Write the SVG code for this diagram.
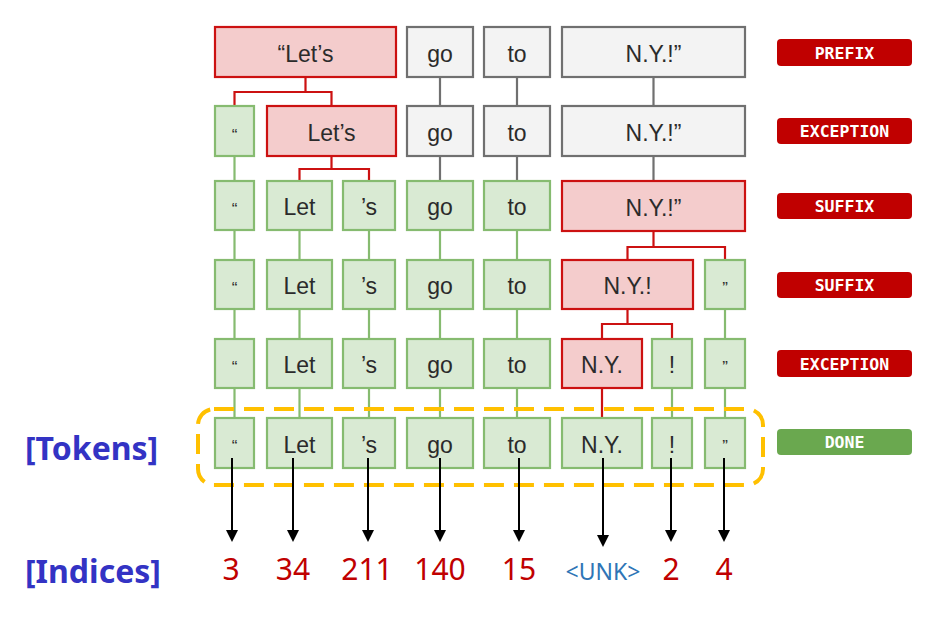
<svg xmlns="http://www.w3.org/2000/svg" width="926" height="618" viewBox="0 0 926 618">
<defs>
<style>
.g rect{fill:#f3f3f3;stroke:#707070;stroke-width:2.2}
.r rect{fill:#f4cccc;stroke:#cc1111;stroke-width:2.2}
.n rect{fill:#d9ead3;stroke:#86bb70;stroke-width:2.2}
.node text{font-family:"Liberation Sans",Arial,sans-serif;font-size:23px;fill:#2b2b2b;text-anchor:middle}
.node text.q{font-size:17px}
.cg{stroke:#707070;stroke-width:2.2;fill:none}
.cr{stroke:#cc1111;stroke-width:2.2;fill:none}
.cn{stroke:#86bb70;stroke-width:2.2;fill:none}
.ar{stroke:#000;stroke-width:2;fill:none}
.tag rect{rx:4;ry:4}
.tag text{font-family:"DejaVu Sans Mono",monospace;font-weight:bold;font-size:16.5px;fill:#fff;text-anchor:middle}
.idx{font-family:"Noto Sans","Open Sans",sans-serif;font-size:30px;fill:#c00000;text-anchor:middle}
.lbl{font-family:"Noto Sans","Open Sans",sans-serif;font-weight:bold;font-size:32px;fill:#3333c4}
</style>
<marker id="ah" markerWidth="12" markerHeight="12" refX="10" refY="6" orient="auto" markerUnits="userSpaceOnUse">
<path d="M0,0 L12,6 L0,12 Z" fill="#000"/>
</marker>
</defs>
<rect width="926" height="618" fill="#fff"/>

<g id="connectors">
<path class="cg" d="M440 77V106M440 156V181M517 77V106M517 156V181M653.5 77V106M653.5 156V181"/>
<path class="cr" d="M305.5 77V92M234.5 106V92H331.5V106"/>
<path class="cr" d="M331.5 156V169M299.5 181V169H369V181"/>
<path class="cr" d="M653.5 231V247M627.5 260V247H725V260"/>
<path class="cr" d="M627.5 309V324M602 339V324H672V339"/>
<path class="cr" d="M602 388V418"/>
<path class="cn" d="M234.5 156V181M234.5 230V260M234.5 309V339M234.5 388V418"/>
<path class="cn" d="M299.5 230V260M299.5 309V339M299.5 388V418"/>
<path class="cn" d="M369 230V260M369 309V339M369 388V418"/>
<path class="cn" d="M440 230V260M440 309V339M440 388V418"/>
<path class="cn" d="M517 230V260M517 309V339M517 388V418"/>
<path class="cn" d="M725 309V339M725 388V418M672 388V418"/>
</g>

<rect id="done-frame" x="198" y="409" width="565" height="76" rx="16" fill="none" stroke="#ffc000" stroke-width="4" stroke-dasharray="20 10"/>

<g id="r1-lets" class="node r"><rect x="215" y="27" width="181" height="50"/><text x="305.5" y="62">“Let’s</text></g>
<g id="r1-go" class="node g"><rect x="407" y="27" width="66" height="50"/><text x="440" y="62">go</text></g>
<g id="r1-to" class="node g"><rect x="484" y="27" width="66" height="50"/><text x="517" y="62">to</text></g>
<g id="r1-ny" class="node g"><rect x="562" y="27" width="183" height="50"/><text x="653.5" y="62">N.Y.!”</text></g>

<g id="r2-q" class="node n"><rect x="215" y="106" width="39" height="50"/><text class="q" x="234.5" y="141">“</text></g>
<g id="r2-lets" class="node r"><rect x="267" y="106" width="129" height="50"/><text x="331.5" y="141">Let’s</text></g>
<g id="r2-go" class="node g"><rect x="407" y="106" width="66" height="50"/><text x="440" y="141">go</text></g>
<g id="r2-to" class="node g"><rect x="484" y="106" width="66" height="50"/><text x="517" y="141">to</text></g>
<g id="r2-ny" class="node g"><rect x="562" y="106" width="183" height="50"/><text x="653.5" y="141">N.Y.!”</text></g>

<g id="r3-q" class="node n"><rect x="215" y="181" width="39" height="49"/><text class="q" x="234.5" y="215">“</text></g>
<g id="r3-let" class="node n"><rect x="267" y="181" width="65" height="49"/><text x="299.5" y="215">Let</text></g>
<g id="r3-s" class="node n"><rect x="343" y="181" width="52" height="49"/><text x="369" y="215">’s</text></g>
<g id="r3-go" class="node n"><rect x="407" y="181" width="66" height="49"/><text x="440" y="215">go</text></g>
<g id="r3-to" class="node n"><rect x="484" y="181" width="66" height="49"/><text x="517" y="215">to</text></g>
<g id="r3-ny" class="node r"><rect x="562" y="181" width="183" height="50"/><text x="653.5" y="216">N.Y.!”</text></g>

<g id="r4-q" class="node n"><rect x="215" y="260" width="39" height="49"/><text class="q" x="234.5" y="294">“</text></g>
<g id="r4-let" class="node n"><rect x="267" y="260" width="65" height="49"/><text x="299.5" y="294">Let</text></g>
<g id="r4-s" class="node n"><rect x="343" y="260" width="52" height="49"/><text x="369" y="294">’s</text></g>
<g id="r4-go" class="node n"><rect x="407" y="260" width="66" height="49"/><text x="440" y="294">go</text></g>
<g id="r4-to" class="node n"><rect x="484" y="260" width="66" height="49"/><text x="517" y="294">to</text></g>
<g id="r4-ny" class="node r"><rect x="562" y="260" width="131" height="49"/><text x="627.5" y="294">N.Y.!</text></g>
<g id="r4-rq" class="node n"><rect x="705" y="260" width="40" height="49"/><text class="q" x="725" y="294">”</text></g>

<g id="r5-q" class="node n"><rect x="215" y="339" width="39" height="49"/><text class="q" x="234.5" y="373">“</text></g>
<g id="r5-let" class="node n"><rect x="267" y="339" width="65" height="49"/><text x="299.5" y="373">Let</text></g>
<g id="r5-s" class="node n"><rect x="343" y="339" width="52" height="49"/><text x="369" y="373">’s</text></g>
<g id="r5-go" class="node n"><rect x="407" y="339" width="66" height="49"/><text x="440" y="373">go</text></g>
<g id="r5-to" class="node n"><rect x="484" y="339" width="66" height="49"/><text x="517" y="373">to</text></g>
<g id="r5-ny" class="node r"><rect x="562" y="339" width="80" height="49"/><text x="602" y="373">N.Y.</text></g>
<g id="r5-ex" class="node n"><rect x="652" y="339" width="40" height="49"/><text x="672" y="373">!</text></g>
<g id="r5-rq" class="node n"><rect x="705" y="339" width="40" height="49"/><text class="q" x="725" y="373">”</text></g>

<g id="r6-q" class="node n"><rect x="215" y="418" width="39" height="50"/><text class="q" x="234.5" y="452">“</text></g>
<g id="r6-let" class="node n"><rect x="267" y="418" width="65" height="50"/><text x="299.5" y="453">Let</text></g>
<g id="r6-s" class="node n"><rect x="343" y="418" width="52" height="50"/><text x="369" y="453">’s</text></g>
<g id="r6-go" class="node n"><rect x="407" y="418" width="66" height="50"/><text x="440" y="453">go</text></g>
<g id="r6-to" class="node n"><rect x="484" y="418" width="66" height="50"/><text x="517" y="453">to</text></g>
<g id="r6-ny" class="node n"><rect x="562" y="418" width="80" height="50"/><text x="602" y="453">N.Y.</text></g>
<g id="r6-ex" class="node n"><rect x="652" y="418" width="40" height="50"/><text x="672" y="453">!</text></g>
<g id="r6-rq" class="node n"><rect x="705" y="418" width="40" height="50"/><text class="q" x="725" y="452">”</text></g>

<g id="tag-prefix" class="tag"><rect x="777" y="39" width="135" height="27" fill="#c00000"/><text x="844.5" y="58.5">PREFIX</text></g>
<g id="tag-exc1" class="tag"><rect x="777" y="118" width="135" height="26" fill="#c00000"/><text x="844.5" y="137">EXCEPTION</text></g>
<g id="tag-suf1" class="tag"><rect x="777" y="193" width="135" height="26" fill="#c00000"/><text x="844.5" y="212">SUFFIX</text></g>
<g id="tag-suf2" class="tag"><rect x="777" y="272" width="135" height="26" fill="#c00000"/><text x="844.5" y="291">SUFFIX</text></g>
<g id="tag-exc2" class="tag"><rect x="777" y="350" width="135" height="27" fill="#c00000"/><text x="844.5" y="369.5">EXCEPTION</text></g>
<g id="tag-done" class="tag"><rect x="777" y="429" width="135" height="26" fill="#6aa84f"/><text x="844.5" y="448">DONE</text></g>

<g id="arrows">
<path class="ar" marker-end="url(#ah)" d="M232 458V540"/>
<path class="ar" marker-end="url(#ah)" d="M293 458V540"/>
<path class="ar" marker-end="url(#ah)" d="M368 458V540"/>
<path class="ar" marker-end="url(#ah)" d="M440 458V540"/>
<path class="ar" marker-end="url(#ah)" d="M519 458V540"/>
<path class="ar" marker-end="url(#ah)" d="M603 458V545"/>
<path class="ar" marker-end="url(#ah)" d="M671 458V540"/>
<path class="ar" marker-end="url(#ah)" d="M724 458V540"/>
</g>

<text class="lbl" x="25" y="460">[Tokens]</text>
<text class="lbl" x="25" y="583">[Indices]</text>

<g id="indices">
<text class="idx" x="231" y="580">3</text>
<text class="idx" x="293" y="580">34</text>
<text class="idx" x="367" y="580">211</text>
<text class="idx" x="440" y="580">140</text>
<text class="idx" x="519" y="580">15</text>
<text x="603" y="580" font-family="Noto Sans, Open Sans, sans-serif" font-size="23" fill="#2e75b6" text-anchor="middle">&lt;UNK&gt;</text>
<text class="idx" x="671" y="580">2</text>
<text class="idx" x="724" y="580">4</text>
</g>
</svg>
